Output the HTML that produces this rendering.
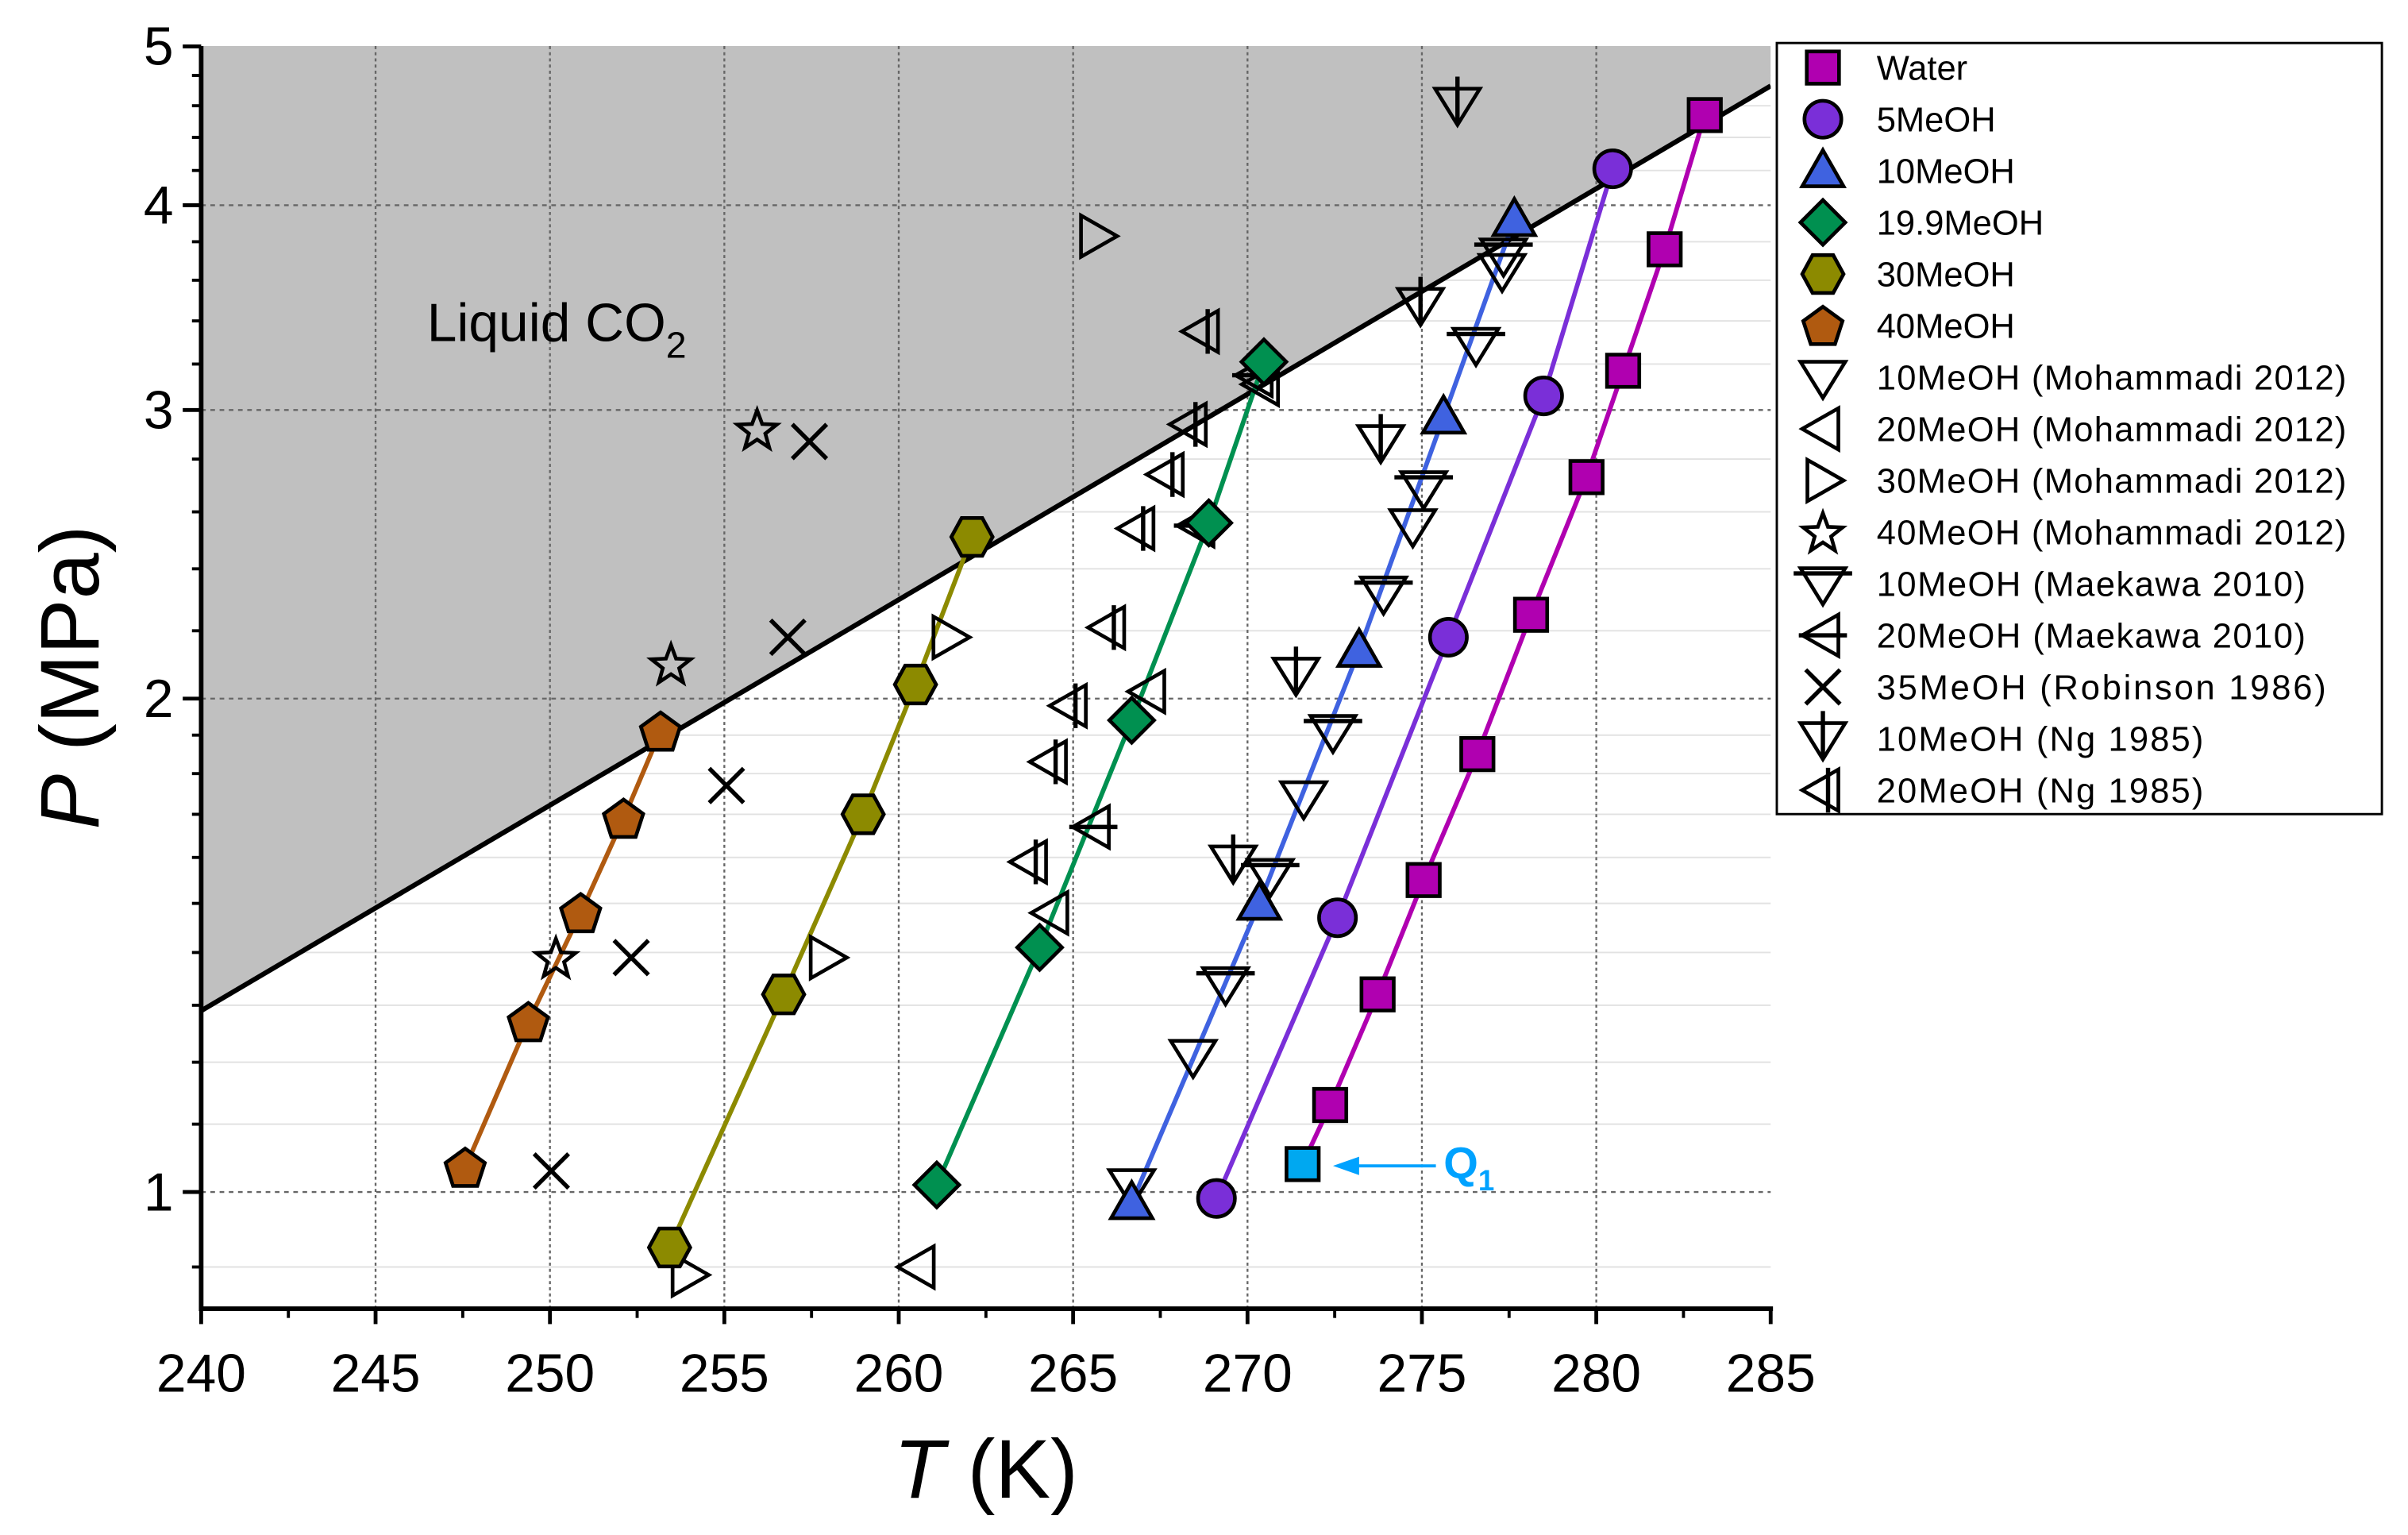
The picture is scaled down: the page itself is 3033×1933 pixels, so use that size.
<!DOCTYPE html>
<html><head><meta charset="utf-8"><style>
html,body{margin:0;padding:0;background:#fff;}
svg{display:block;font-family:"Liberation Sans",Arial,sans-serif;}
</style></head><body>
<svg id="chart" width="3033" height="1933" viewBox="0 0 1568 999.3" preserveAspectRatio="none" xmlns="http://www.w3.org/2000/svg">
<defs><clipPath id="pc"><rect x="131" y="30" width="1022" height="822"/></clipPath></defs>
<g id="grid"></g>
<g id="region" clip-path="url(#pc)"></g>
<g id="lines" clip-path="url(#pc)"></g>
<g id="marks"></g>
<g id="axes"></g>
<text x="278" y="222" font-size="35">Liquid CO<tspan font-size="24" dy="11">2</tspan></text>
<g>
<line x1="935" y1="759" x2="874" y2="759" stroke="#00a2ff" stroke-width="2"/>
<polygon points="868,759 885,753 885,765" fill="#00a2ff"/>
<text x="940" y="767" font-size="29" font-weight="bold" fill="#00a2ff">Q<tspan font-size="19" dy="8">1</tspan></text>
</g>
<text x="642" y="975" font-size="54" text-anchor="middle"><tspan font-style="italic">T</tspan> (K)</text>
<text transform="translate(64,441) rotate(-90)" font-size="54" text-anchor="middle"><tspan font-style="italic">P</tspan> (MPa)</text>
<g id="legend"></g>
</svg>
<script>
// ---- data ----
const waterT=[283.11,281.96,280.77,279.72,278.13,276.59,275.05,273.73,272.37];
const waterP=[4.54,3.76,3.17,2.73,2.25,1.85,1.55,1.32,1.13];
const q1T=[271.58]; const q1P=[1.04];
const m5T=[280.47,278.49,275.76,272.58,269.11];
const m5P=[4.21,3.06,2.18,1.47,0.991];
const m10T=[277.65,275.62,273.20,270.34,266.68];
const m10P=[3.92,2.97,2.14,1.50,0.985];
const m199T=[270.47,268.89,266.68,264.04,261.09];
const m199P=[3.21,2.56,1.94,1.41,1.01];
const m30T=[262.10,260.48,258.98,256.70,253.43];
const m30P=[2.51,2.04,1.70,1.32,0.925];
const m40T=[253.17,252.11,250.88,249.38,247.57];
const m40P=[1.91,1.69,1.48,1.27,1.035];
const moh10T=[277.30,274.74,271.61,268.44,266.68];
const moh10P=[3.65,2.55,1.74,1.21,1.009];
const moh20T=[270.43,267.17,264.39,260.56];
const moh20P=[3.11,2.02,1.48,0.90];
const moh30T=[265.67,261.44,257.92,253.96];
const moh30P=[3.83,2.18,1.39,0.89];
const moh40T=[255.94,253.47,250.17];
const moh40P=[2.92,2.10,1.39];
const mae10T=[277.34,276.55,275.05,273.90,272.45,270.65,269.37];
const mae10P=[3.73,3.29,2.69,2.32,1.91,1.56,1.34];
const mae20T=[270.25,268.58,265.58];
const mae20P=[3.15,2.55,1.67];
const rob35T=[257.44,256.82,255.06,252.33,250.04];
const rob35P=[2.87,2.18,1.77,1.39,1.03];
const ng10T=[276.02,274.96,273.82,271.39,269.59];
const ng10P=[4.61,3.48,2.87,2.07,1.59];
const ng20T=[268.71,268.36,267.70,266.86,266.02,264.92,264.35,263.78];
const ng20P=[3.35,2.94,2.74,2.54,2.21,1.98,1.83,1.59];
const boundaryT=[240,285];
const boundaryP=[1.29,4.73];
const xTicks=[240,245,250,255,260,265,270,275,280,285];
const yTicks=[1,2,3,4,5];
const legendLabels=["Water","5MeOH","10MeOH","19.9MeOH","30MeOH","40MeOH","10MeOH (Mohammadi 2012)","20MeOH (Mohammadi 2012)","30MeOH (Mohammadi 2012)","40MeOH (Mohammadi 2012)","10MeOH (Maekawa 2010)","20MeOH (Maekawa 2010)","35MeOH (Robinson 1986)","10MeOH (Ng 1985)","20MeOH (Ng 1985)"];

const NS="http://www.w3.org/2000/svg";
const X0=131,X1=1153,Y0=852,YT=30;
function xs(t){return X0+(t-240)*(X1-X0)/45;}
function ys(p){return 776-Math.log10(p)*1067;}
function el(tag,attrs,parent){const e=document.createElementNS(NS,tag);for(const k in attrs)e.setAttribute(k,attrs[k]);parent.appendChild(e);return e;}
const grid=document.getElementById('grid'),region=document.getElementById('region'),lines=document.getElementById('lines'),marks=document.getElementById('marks'),axes=document.getElementById('axes'),legend=document.getElementById('legend');

const minorP=[0.9,1.1,1.2,1.3,1.4,1.5,1.6,1.7,1.8,1.9,2.2,2.4,2.6,2.8,3.2,3.4,3.6,3.8,4.2,4.4,4.6,4.8];
minorP.forEach(p=>{const l=el('line',{x1:X0,x2:X1,y1:ys(p),y2:ys(p),stroke:'#e2e2e2','stroke-width':1},grid);

});

const poly=el('polygon',{points:`${xs(boundaryT[0])},${ys(boundaryP[0])} ${xs(boundaryT[1])},${ys(boundaryP[1])} ${X1},${YT} ${X0},${YT}`,fill:'#c0c0c0'},region);


const gridTop=document.createElementNS(NS,'g');document.getElementById('chart').insertBefore(gridTop,lines);
xTicks.slice(1,-1).forEach(t=>{const l=el('line',{x1:xs(t),x2:xs(t),y1:YT,y2:Y0,stroke:'#666','stroke-width':1.2,'stroke-dasharray':'2,2'},gridTop);

});
yTicks.slice(0,-1).forEach(p=>{const l=el('line',{x1:X0,x2:X1,y1:ys(p),y2:ys(p),stroke:'#666','stroke-width':1.2,'stroke-dasharray':'3,3'},gridTop);

});
const bl=el('line',{x1:xs(boundaryT[0]),y1:ys(boundaryP[0]),x2:xs(boundaryT[1]),y2:ys(boundaryP[1]),stroke:'#000','stroke-width':3.2},lines);



function fit(T,P,color,name){const pts=T.map((t,i)=>[xs(t),ys(P[i])]).sort((a,b)=>a[0]-b[0]);
const l=el('polyline',{points:pts.map(p=>p.join(',')).join(' '),fill:'none',stroke:color,'stroke-width':3},lines);

}
fit(waterT.concat(q1T),waterP.concat(q1P),'#b000b0','water-line');
fit(m5T,m5P,'#7a2fd8','5meoh-line');
fit(m10T,m10P,'#3f62e0','10meoh-line');
fit(m199T,m199P,'#009050','19.9meoh-line');
fit(m30T,m30P,'#8c8a00','30meoh-line');
fit(m40T,m40P,'#b05a10','40meoh-line');

function shape(type,cx,cy,fill,g){
 const sw=2.4, st='#000';
 const k=1.12;
 const pg=(pts)=>el('polygon',{points:pts.map(p=>(cx+p[0]*k)+','+(cy+p[1]*k)).join(' '),fill:fill,stroke:st,'stroke-width':sw},g);
 const ln=(a,b,c,d)=>el('line',{x1:cx+a*k,y1:cy+b*k,x2:cx+c*k,y2:cy+d*k,stroke:st,'stroke-width':2.8},g);
 switch(type){
 case 'sq':el('rect',{x:cx-10.5,y:cy-10.5,width:21,height:21,fill:fill,stroke:st,'stroke-width':sw},g);break;
 case 'ci':el('circle',{cx:cx,cy:cy,r:12,fill:fill,stroke:st,'stroke-width':sw},g);break;
 case 'tu':pg([[0,-12],[12,9],[-12,9]]);break;
 case 'di':pg([[0,-13],[13,0],[0,13],[-13,0]]);break;
 case 'hx':pg([[-12,0],[-6,-11],[6,-11],[12,0],[6,11],[-6,11]]);break;
 case 'pe':{const p=[];for(let i=0;i<5;i++){const a=-Math.PI/2+i*2*Math.PI/5;p.push([12*Math.cos(a),12*Math.sin(a)+1]);}pg(p);break;}
 case 'td':pg([[-13,-9],[13,-9],[0,12]]);break;
 case 'tl':pg([[-12,0],[9,-12],[9,12]]);break;
 case 'tr':pg([[12,0],[-9,-12],[-9,12]]);break;
 case 'st':{const p=[];for(let i=0;i<10;i++){const r=i%2?5:12,a=-Math.PI/2+i*Math.PI/5;p.push([r*Math.cos(a),r*Math.sin(a)+1]);}pg(p);break;}
 case 'tdh':pg([[-13,-9],[13,-9],[0,12]]);ln(-17,-6,17,-6);break;
 case 'tlh':pg([[-12,0],[9,-12],[9,12]]);ln(-14,0,14,0);break;
 case 'x':ln(-10,-10,10,10);ln(-10,10,10,-10);break;
 case 'tdv':pg([[-13,-9],[13,-9],[0,12]]);ln(0,-16,0,12);break;
 case 'tlv':pg([[-12,0],[9,-12],[9,12]]);ln(3,-13,3,13);break;
 }
}
function series(T,P,type,fill,name){const g=el('g',{},marks);


T.forEach((t,i)=>shape(type,xs(t),ys(P[i]),fill,g));}
series(moh10T,moh10P,'td','none','series-10meoh-mohammadi');
series(moh20T,moh20P,'tl','none','series-20meoh-mohammadi');
series(moh30T,moh30P,'tr','none','series-30meoh-mohammadi');
series(moh40T,moh40P,'st','none','series-40meoh-mohammadi');
series(mae10T,mae10P,'tdh','none','series-10meoh-maekawa');
series(mae20T,mae20P,'tlh','none','series-20meoh-maekawa');
series(rob35T,rob35P,'x','none','series-35meoh-robinson');
series(ng10T,ng10P,'tdv','none','series-10meoh-ng');
series(ng20T,ng20P,'tlv','none','series-20meoh-ng');
series(waterT,waterP,'sq','#b000b0','series-water');
series(q1T,q1P,'sq','#00a8f0','point-q1');
series(m5T,m5P,'ci','#7a2fd8','series-5meoh');
series(m10T,m10P,'tu','#3f62e0','series-10meoh');
series(m199T,m199P,'di','#009050','series-19.9meoh');
series(m30T,m30P,'hx','#8c8a00','series-30meoh');
series(m40T,m40P,'pe','#b05a10','series-40meoh');

el('line',{x1:X0,y1:YT,x2:X0,y2:Y0+1.5,stroke:'#000','stroke-width':3},axes);
el('line',{x1:X0-1.5,y1:Y0,x2:X1+1.5,y2:Y0,stroke:'#000','stroke-width':3},axes);
xTicks.forEach(t=>{el('line',{x1:xs(t),x2:xs(t),y1:Y0,y2:Y0+10,stroke:'#000','stroke-width':2.5},axes);
const tx=el('text',{x:xs(t),y:Y0+54,'font-size':35,'text-anchor':'middle'},axes);tx.textContent=t;

});
[242.5,247.5,252.5,257.5,262.5,267.5,272.5,277.5,282.5].forEach(t=>el('line',{x1:xs(t),x2:xs(t),y1:Y0,y2:Y0+6,stroke:'#000','stroke-width':2},axes));
yTicks.forEach(p=>{el('line',{x1:X0-12,x2:X0,y1:ys(p),y2:ys(p),stroke:'#000','stroke-width':2.5},axes);
const tx=el('text',{x:X0-18,y:ys(p)+12,'font-size':35,'text-anchor':'end'},axes);tx.textContent=p;

});
minorP.forEach(p=>el('line',{x1:X0-6,x2:X0,y1:ys(p),y2:ys(p),stroke:'#000','stroke-width':2},axes));

el('rect',{x:1157,y:28,width:394,height:502,fill:'#fff',stroke:'#000','stroke-width':1.5},legend);
const lt=['sq','ci','tu','di','hx','pe','td','tl','tr','st','tdh','tlh','x','tdv','tlv'];
const lf=['#b000b0','#7a2fd8','#3f62e0','#009050','#8c8a00','#b05a10','none','none','none','none','none','none','none','none','none'];
legendLabels.forEach((s,i)=>{const y=44+i*33.6;const g=el('g',{},legend);


shape(lt[i],1187,y,lf[i],g);
const t=el('text',{x:1222,y:y+8,'font-size':22.5,textLength:(s.length>14? s.length*13.3 : null)},g);
if(!(s.length>14)) t.removeAttribute('textLength');
t.textContent=s;});
</script>
</body></html>
